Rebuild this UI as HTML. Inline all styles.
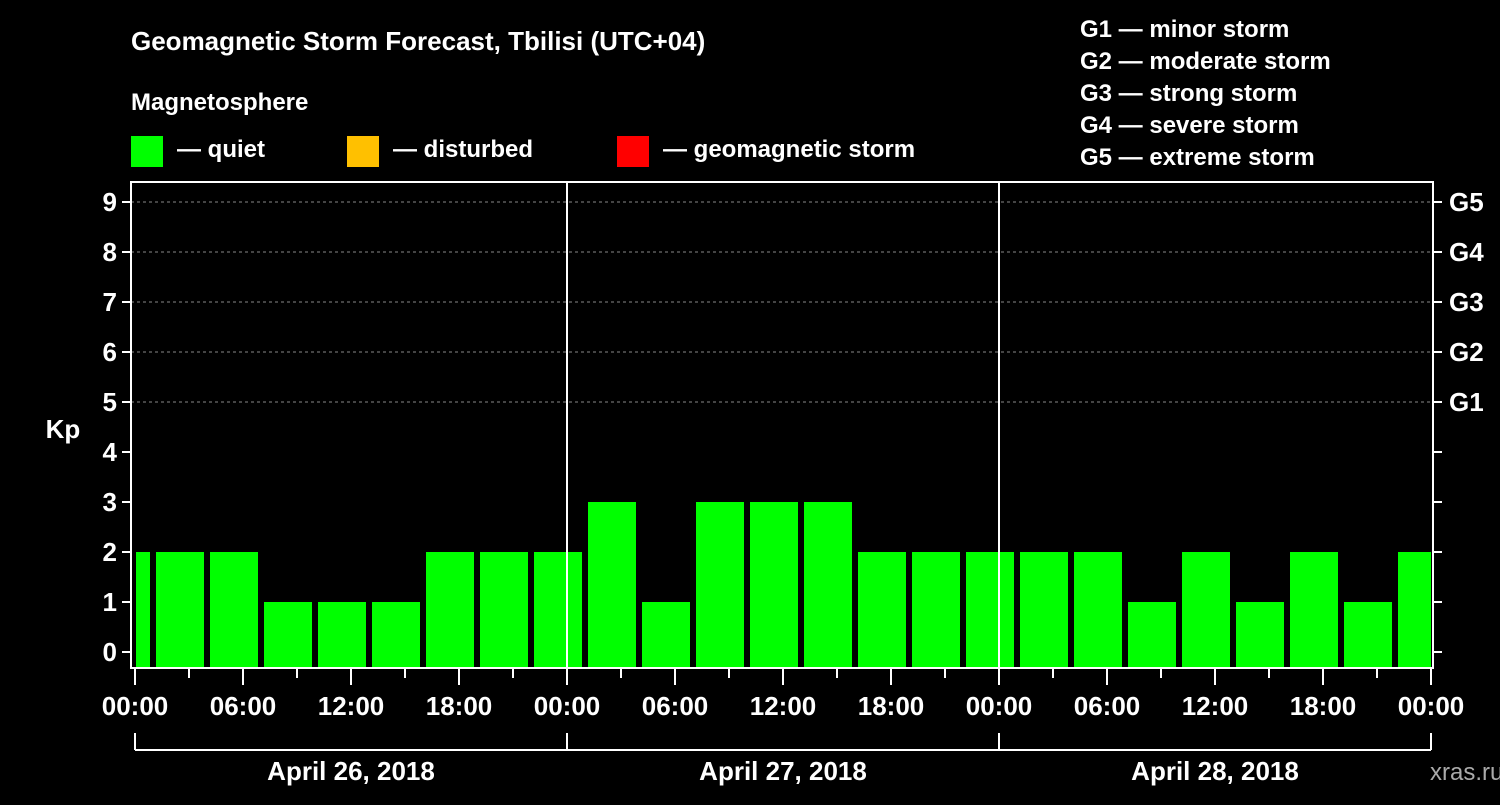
<!DOCTYPE html>
<html><head><meta charset="utf-8"><style>
body{margin:0;background:#000;width:1500px;height:800px;overflow:hidden}
svg text{font-family:"Liberation Sans",Arial,sans-serif;font-weight:bold;fill:#fff}
</style></head><body>
<svg id="c" width="1500" height="800" xmlns="http://www.w3.org/2000/svg">
<rect width="1500" height="800" fill="#000"/>
<text x="131" y="50" font-size="26">Geomagnetic Storm Forecast, Tbilisi (UTC+04)</text>
<text x="131" y="110" font-size="24">Magnetosphere</text>
<g><rect x="131" y="136" width="32" height="31" fill="#00ff00"/><text x="177" y="157" font-size="24">— quiet</text></g>
<g><rect x="347" y="136" width="32" height="31" fill="#ffc000"/><text x="393" y="157" font-size="24">— disturbed</text></g>
<g><rect x="617" y="136" width="32" height="31" fill="#ff0000"/><text x="663" y="157" font-size="24">— geomagnetic storm</text></g>
<g font-size="24">
<text x="1080" y="37">G1 — minor storm</text>
<text x="1080" y="69">G2 — moderate storm</text>
<text x="1080" y="101">G3 — strong storm</text>
<text x="1080" y="133">G4 — severe storm</text>
<text x="1080" y="165">G5 — extreme storm</text>
</g>
<text x="63" y="438" font-size="26" text-anchor="middle">Kp</text>
<text x="1430" y="780" font-size="24" fill="#aaa" style="fill:#aaa;font-weight:normal">xras.ru</text>
<g id="plot"></g>
</svg>
<script>
const values=[2,2,2,1,1,1,2,2,2,3,1,3,3,3,2,2,2,2,2,1,2,1,2,1,2];
const kpTicks=[0,1,2,3,4,5,6,7,8,9];
const gLabels=["G1","G2","G3","G4","G5"];
const hourLabels=["00:00","06:00","12:00","18:00"];
const days=["April 26, 2018","April 27, 2018","April 28, 2018"];
const L=131,R=1433,T=182,B=668,X0=135,DAY=432;
const xh=h=>X0+h*DAY/24;
const y=v=>652-v*50;
const ns="http://www.w3.org/2000/svg";
const g=document.getElementById('plot');
function mk(t,a){const e=document.createElementNS(ns,t);for(const k in a)e.setAttribute(k,a[k]);g.appendChild(e);return e;}
// bars
values.forEach((v,i)=>{
  let x1=xh(-2+3*i)+3,x2=xh(1+3*i)-3;
  x1=Math.max(x1,X0+1);x2=Math.min(x2,xh(72));
  const r=mk('rect',{x:x1,y:y(v),width:x2-x1,height:B-1-y(v),fill:'#00ff00'});
  
  
});
// grid and y ticks
kpTicks.forEach(k=>{
  if(k>=5){const l=mk('line',{x1:L,x2:R,y1:y(k),y2:y(k),stroke:'#888','stroke-dasharray':'3,3','stroke-width':1});
  }
  mk('line',{x1:L-9,x2:L,y1:y(k),y2:y(k),stroke:'#fff','stroke-width':2});
  mk('line',{x1:R,x2:R+9,y1:y(k),y2:y(k),stroke:'#fff','stroke-width':2});
  const t=mk('text',{x:L-14,y:y(k)+9,'font-size':26,'text-anchor':'end'});t.textContent=k;
  
});
gLabels.forEach((s,i)=>{const t=mk('text',{x:R+16,y:y(5+i)+9,'font-size':26});t.textContent=s;
  });
// frame
const f=mk('rect',{x:L,y:T,width:R-L,height:B-T,fill:'none',stroke:'#fff','stroke-width':2});

// day separators
[1,2].forEach(d=>mk('line',{x1:xh(24*d),x2:xh(24*d),y1:T,y2:B,stroke:'#fff','stroke-width':2}));
// x ticks
for(let h=0;h<=72;h+=3){const long=h%6==0;mk('line',{x1:xh(h),x2:xh(h),y1:B,y2:B+(long?17:10),stroke:'#fff','stroke-width':2});}
for(let d=0;d<3;d++)hourLabels.forEach((s,i)=>{const t=mk('text',{x:xh(24*d+6*i),y:715,'font-size':26,'text-anchor':'middle'});t.textContent=s;
  });
{const t=mk('text',{x:xh(72),y:715,'font-size':26,'text-anchor':'middle'});t.textContent="00:00";
 }
// day brackets
mk('line',{x1:xh(0),x2:xh(72),y1:750,y2:750,stroke:'#fff','stroke-width':2});
for(let d=0;d<=3;d++)mk('line',{x1:xh(24*d),x2:xh(24*d),y1:733,y2:750,stroke:'#fff','stroke-width':2});
days.forEach((s,d)=>{const t=mk('text',{x:xh(24*d+12),y:780,'font-size':26,'text-anchor':'middle'});t.textContent=s;
  });
</script>
</body></html>
